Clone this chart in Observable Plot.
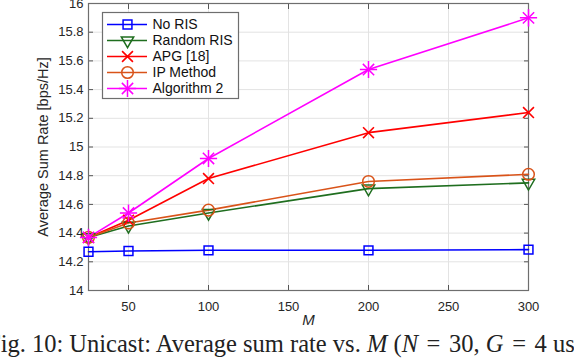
<!DOCTYPE html>
<html>
<head>
<meta charset="utf-8">
<script src="https://cdn.jsdelivr.net/npm/d3@7"></script>
<script src="https://cdn.jsdelivr.net/npm/@observablehq/plot@0.6"></script>
<style>
  html, body { margin: 0; padding: 0; background: #fff; overflow: hidden; }
  #wrap { position: relative; width: 574px; height: 358px; overflow: hidden; }
  #chart { position: absolute; left: 0; top: 0; }
  #legend { position: absolute; left: 102px; top: 12px; }
  #caption { position: absolute; left: -13px; top: 331px; white-space: nowrap; line-height: 25px;
    font-family: "Liberation Serif", "Times New Roman", serif; font-size: 24.5px; color: #222; }
  #caption .eq { margin: 0 2.5px; }
</style>
</head>
<body>
<div id="wrap">
  <div id="chart"></div>
  <div id="legend"></div>
  <div id="caption">Fig. 10: Unicast: Average sum rate vs. <i>M</i> (<i>N</i> <span class="eq">=</span> 30, <i>G</i> <span class="eq">=</span> 4 users)</div>
</div>
<script>
const M = [25, 50, 100, 200, 300];
const seriesNames = ["No RIS", "Random RIS", "APG [18]", "IP Method", "Algorithm 2"];
const noRIS      = [14.27, 14.275, 14.28, 14.28, 14.285];
const randomRIS  = [14.37, 14.45, 14.54, 14.71, 14.75];
const apg        = [14.37, 14.49, 14.78, 15.10, 15.24];
const ipMethod   = [14.37, 14.47, 14.56, 14.76, 14.81];
const algorithm2 = [14.37, 14.54, 14.92, 15.54, 15.90];
const xTicks = [50, 100, 150, 200, 250, 300];
const yTicks = [14, 14.2, 14.4, 14.6, 14.8, 15, 15.2, 15.4, 15.6, 15.8, 16];

const colors = ["#0000ff", "#1f6e1f", "#ff0000", "#d95319", "#ff00ff"];
const seriesVals = [noRIS, randomRIS, apg, ipMethod, algorithm2];
const data = [];
seriesNames.forEach((s, i) => M.forEach((m, j) => data.push({series: s, M: m, rate: seriesVals[i][j]})));

const font = "'Liberation Sans', Arial, Helvetica, sans-serif";
const colorScale = {domain: seriesNames, range: colors};

function markersFor(d, ofs) {
  const by = s => d.filter(r => r.series === s);
  return [
    Plot.dot(by("No RIS"), {...ofs, symbol: "square", r: 5, stroke: colors[0], strokeWidth: 1.5, fill: "none"}),
    Plot.dot(by("Random RIS"), {...ofs, symbol: "triangle", rotate: 180, r: 4.6, stroke: colors[1], strokeWidth: 1.5, fill: "none"}),
    Plot.dot(by("APG [18]"), {...ofs, symbol: "times", r: 5, stroke: colors[2], strokeWidth: 1.6, fill: "none"}),
    Plot.dot(by("IP Method"), {...ofs, symbol: "circle", r: 5.8, stroke: colors[3], strokeWidth: 1.5, fill: "none"}),
    Plot.dot(by("Algorithm 2"), {...ofs, symbol: "plus", r: 5.6, stroke: colors[4], strokeWidth: 1.5, fill: "none"}),
    Plot.dot(by("Algorithm 2"), {...ofs, symbol: "times", r: 5.2, stroke: colors[4], strokeWidth: 1.5, fill: "none"})
  ];
}

const chart = Plot.plot({
  width: 574,
  height: 330,
  marginLeft: 88,
  marginRight: 46,
  marginTop: 3,
  marginBottom: 40,
  style: {fontFamily: font, fontSize: "13px", color: "#262626", background: "white"},
  x: {domain: [25, 300]},
  y: {domain: [14, 16]},
  color: colorScale,
  marks: [
    Plot.gridX(xTicks, {stroke: "#e3e3e3", strokeOpacity: 1}),
    Plot.gridY(yTicks, {stroke: "#e3e3e3", strokeOpacity: 1}),
    Plot.axisX(xTicks, {anchor: "bottom", tickSize: 0, tickPadding: 11, label: null, fontSize: 13}),
    Plot.axisX(xTicks, {anchor: "bottom", tickSize: -5, text: null, label: null, stroke: "#555"}),
    Plot.axisX(xTicks, {anchor: "top", tickSize: -5, text: null, label: null, stroke: "#555"}),
    Plot.axisY(yTicks, {anchor: "left", tickSize: 0, tickPadding: 5, tickFormat: d3.format("~g"), fontSize: 13, label: null}),
    Plot.axisY(yTicks, {anchor: "left", tickSize: -5, text: null, label: null, stroke: "#555"}),
    Plot.axisY(yTicks, {anchor: "right", tickSize: -5, text: null, label: null, stroke: "#555"}),
    Plot.frame({stroke: "#6e6e6e", strokeWidth: 1.2}),
    Plot.text(["Average Sum Rate [bps/Hz]"], {frameAnchor: "left", textAnchor: "middle", rotate: -90, dx: -45, fontSize: 14.5, fill: "#262626"}),
    Plot.text(["M"], {frameAnchor: "bottom", dy: 34, fontStyle: "italic", fontSize: 15, fill: "#262626"}),
    Plot.line(data, {x: "M", y: "rate", z: "series", stroke: "series", strokeWidth: 1.6}),
    ...markersFor(data, {x: "M", y: "rate"})
  ]
});
document.getElementById("chart").appendChild(chart);

// Legend built with Plot
const legendData = seriesNames.map(s => ({series: s}));
const legend = Plot.plot({
  width: 136,
  height: 86,
  margin: 0,
  style: {fontFamily: font, fontSize: "14px", color: "#111", background: "white", overflow: "visible"},
  x: {domain: [0, 136], range: [0, 136], axis: null},
  y: {domain: seriesNames, range: [11, 76], type: "point", padding: 0, axis: null},
  color: colorScale,
  marks: [
    Plot.frame({stroke: "#6e6e6e", strokeWidth: 1.2, fill: "white"}),
    Plot.ruleY(legendData, {y: "series", x1: 5, x2: 45, stroke: "series", strokeWidth: 1.6}),
    ...markersFor(legendData, {x: 25, y: "series"}),
    Plot.text(legendData, {x: 50, y: "series", text: "series", textAnchor: "start", fontSize: 14, fill: "#111"})
  ]
});
document.getElementById("legend").appendChild(legend);
</script>
</body>
</html>
